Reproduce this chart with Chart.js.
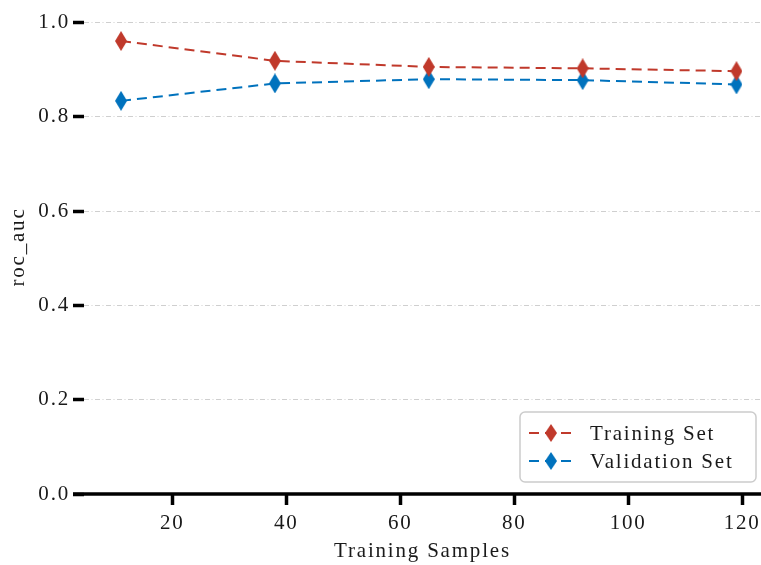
<!DOCTYPE html>
<html>
<head>
<meta charset="utf-8">
<script src="https://cdn.jsdelivr.net/npm/chart.js@4.4.1/dist/chart.umd.min.js"></script>
<style>
    html, body { margin: 0; padding: 0; background: #fff; }
    #wrap { width: 761px; height: 565px; }
</style>
</head>
<body>
<div id="wrap"><canvas id="lcChart" width="761" height="565"></canvas></div>
<script>
// data
var trainSizes = [11, 38, 65, 92, 119];
var trainScores = [0.961, 0.919, 0.906, 0.903, 0.897];
var validScores = [0.834, 0.871, 0.880, 0.878, 0.869];
var seriesNames = ["Training Set", "Validation Set"];
var xTicks = [20, 40, 60, 80, 100, 120];
var yTicks = [0.0, 0.2, 0.4, 0.6, 0.8, 1.0];

var RED = "#c0392b";
var BLUE = "#0072bd";
var FONT = "'Liberation Serif', 'Times New Roman', serif";
var SPACING = "1.8px";

// thin diamond marker (matplotlib "d")
function makeDiamond(color, w, h) {
    var c = document.createElement("canvas");
    c.width = w;
    c.height = h;
    var g = c.getContext("2d");
    g.fillStyle = color;
    g.beginPath();
    g.moveTo(w / 2, 0);
    g.lineTo(w, h / 2);
    g.lineTo(w / 2, h);
    g.lineTo(0, h / 2);
    g.closePath();
    g.fill();
    return c;
}
var redDiamond = makeDiamond(RED, 12, 20);
var blueDiamond = makeDiamond(BLUE, 12, 20);

function toPoints(xs, ys) {
    return xs.map(function (x, i) {
        return { x: x, y: ys[i] };
    });
}

var spacingPlugin = {
    id: "spacing",
    beforeUpdate: function (chart) {
        chart.ctx.letterSpacing = SPACING;
    },
    beforeDraw: function (chart) {
        chart.ctx.letterSpacing = SPACING;
    },
};

// x spine reaches past the plot area to the left like the original
var spinePlugin = {
    id: "spine",
    afterDatasetsDraw: function (chart) {
        var ctx = chart.ctx;
        var y = chart.scales.y.getPixelForValue(0);
        ctx.save();
        ctx.strokeStyle = "#000";
        ctx.lineWidth = 3.5;
        ctx.beginPath();
        ctx.moveTo(73, y);
        ctx.lineTo(chart.width, y);
        ctx.stroke();
        ctx.restore();
    },
};

// legend inside the plot, bottom right
var boxLegend = {
    id: "boxLegend",
    afterDraw: function (chart) {
        var ctx = chart.ctx;
        var x0 = 520, y0 = 412, w = 236, h = 70, r = 5;
        ctx.save();
        ctx.letterSpacing = SPACING;
        ctx.fillStyle = "rgba(255,255,255,0.85)";
        ctx.strokeStyle = "#cccccc";
        ctx.lineWidth = 1.5;
        ctx.beginPath();
        ctx.roundRect(x0, y0, w, h, r);
        ctx.fill();
        ctx.stroke();

        chart.data.datasets.forEach(function (ds, i) {
            var cy = 433 + i * 28;
            ctx.strokeStyle = ds.borderColor;
            ctx.lineWidth = 2;
            ctx.setLineDash([10, 6]);
            ctx.beginPath();
            ctx.moveTo(529, cy);
            ctx.lineTo(573, cy);
            ctx.stroke();
            ctx.setLineDash([]);
            ctx.drawImage(ds.pointStyle, 551 - 6, cy - 9, 12, 18);
            ctx.fillStyle = "#1a1a1a";
            ctx.font = "21px " + FONT;
            ctx.textBaseline = "middle";
            ctx.textAlign = "left";
            ctx.fillText(ds.label, 590, cy + 1);
        });
        ctx.restore();
    },
};

function noPad(axis) {
    axis.paddingTop = 0;
    axis.paddingBottom = 0;
    axis.paddingLeft = 0;
    axis.paddingRight = 0;
}

var ctx_lc = document.getElementById("lcChart");
var lcChart = new Chart(ctx_lc, {
    type: "line",
    data: {
        datasets: [
            {
                label: seriesNames[0],
                data: toPoints(trainSizes, trainScores),
                borderColor: RED,
                backgroundColor: RED,
                borderWidth: 2,
                borderDash: [10, 6],
                pointStyle: redDiamond,
                tension: 0,
            },
            {
                label: seriesNames[1],
                data: toPoints(trainSizes, validScores),
                borderColor: BLUE,
                backgroundColor: BLUE,
                borderWidth: 2,
                borderDash: [10, 6],
                pointStyle: blueDiamond,
                tension: 0,
            },
        ],
    },
    options: {
        responsive: false,
        animation: false,
        devicePixelRatio: 1,
        layout: { padding: 0, autoPadding: false },
        plugins: {
            legend: { display: false },
            tooltip: { enabled: false },
        },
        scales: {
            x: {
                type: "linear",
                min: 4.5,
                max: 123.3,
                afterBuildTicks: function (axis) {
                    axis.ticks = xTicks.map(function (v) {
                        return { value: v };
                    });
                },
                afterFit: function (axis) {
                    axis.height = 71;
                    noPad(axis);
                },
                grid: {
                    drawOnChartArea: false,
                    drawTicks: true,
                    tickLength: 11,
                    tickColor: "#000",
                    tickWidth: 3.5,
                },
                border: { display: false },
                ticks: {
                    color: "#1a1a1a",
                    font: { family: FONT, size: 21 },
                    padding: 6,
                    maxRotation: 0,
                },
                title: {
                    display: true,
                    text: "Training Samples",
                    color: "#1a1a1a",
                    font: { family: FONT, size: 21 },
                    padding: { top: 2, bottom: 1 },
                },
            },
            y: {
                min: 0,
                max: 1.048,
                afterBuildTicks: function (axis) {
                    axis.ticks = yTicks.map(function (v) {
                        return { value: v };
                    });
                },
                afterFit: function (axis) {
                    axis.width = 84;
                    noPad(axis);
                },
                grid: {
                    color: "#cfcfcf",
                    lineWidth: 1,
                    tickLength: 11,
                    tickColor: "#000",
                    tickWidth: 3.5,
                    tickBorderDash: [],
                },
                border: { display: false, dash: [5, 2.5, 1, 2.5] },
                ticks: {
                    color: "#1a1a1a",
                    font: { family: FONT, size: 21 },
                    padding: 3,
                    callback: function (v) {
                        return Number(v).toFixed(1);
                    },
                },
                title: {
                    display: true,
                    text: "roc_auc",
                    color: "#1a1a1a",
                    font: { family: FONT, size: 21 },
                    padding: { top: 6, bottom: 4 },
                },
            },
        },
    },
    plugins: [spacingPlugin, spinePlugin, boxLegend],
});
</script>
</body>
</html>
